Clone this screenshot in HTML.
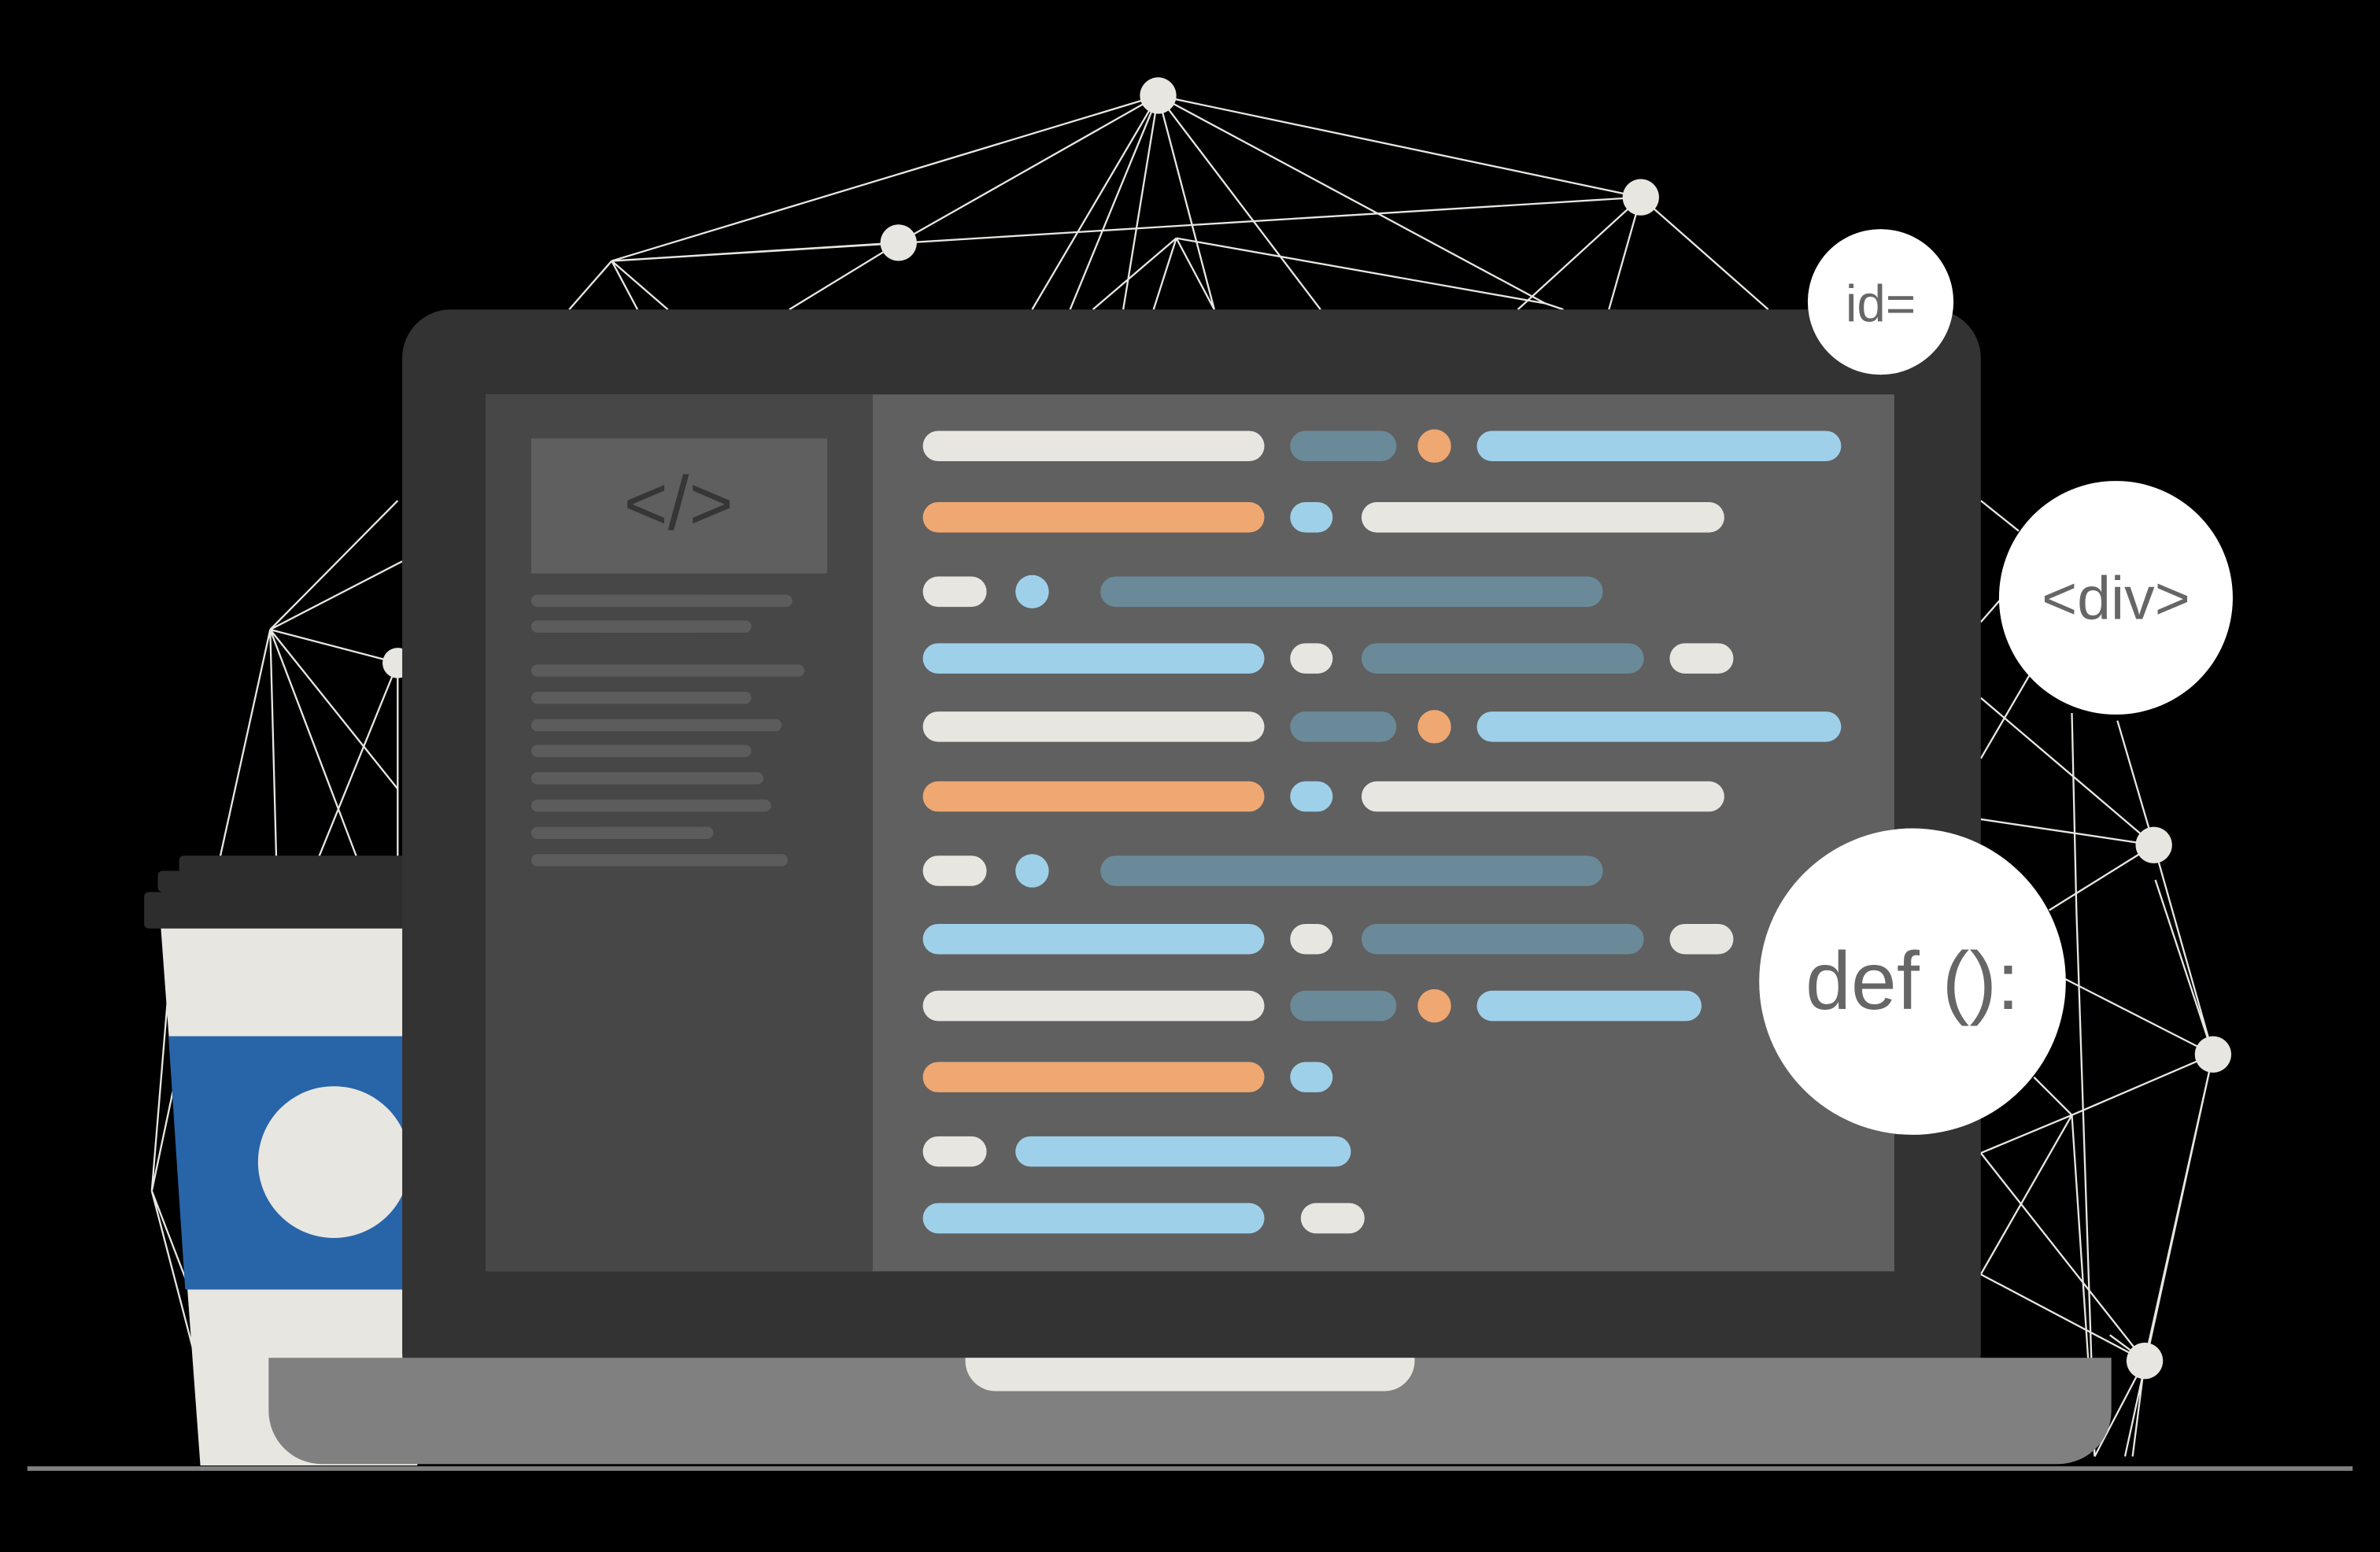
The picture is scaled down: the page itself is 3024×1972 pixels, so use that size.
<!DOCTYPE html>
<html><head><meta charset="utf-8"><style>
html,body{margin:0;padding:0;background:#000;}
svg{display:block;}
</style></head><body>
<svg width="3024" height="1972" viewBox="0 0 1568 1023" preserveAspectRatio="none" xmlns="http://www.w3.org/2000/svg">
<rect width="1568" height="1023" fill="#000"/>
<g stroke="#e8e6e1" stroke-width="1.2" fill="none">
<path d="M763,63 L403,172 M763,63 L592,160 M763,63 L1081,130 M763,63 L680,204 M763,63 L705,204 M763,63 L800,204 M763,63 L870,204 M763,63 L1018,200 M763,63 L740,204 M403,172 L1081,130 M403,172 L592,160 M592,160 L520,204 M403,172 L375,204 M403,172 L440,204 M403,172 L420,204 M775,157 L720,204 M775,157 L760,204 M775,157 L1018,200 M775,157 L800,204 M1081,130 L1000,204 M1081,130 L1060,204 M1081,130 L1165,204 M1018,200 L1030,204"/>
<path d="M178,415 L262,330 M178,415 L265,370 M178,415 L262,437 M178,415 L145,565 M178,415 L182,565 M178,415 L235,565 M178,415 L262,520 M262,437 L210,565 M262,437 L262,565 M100,785 L118,700 M100,785 L125,850 M100,785 L112,640 M100,785 L130,900"/>
<path d="M1305,330 L1330,350 M1305,410 L1340,370 M1305,500 L1340,440 M1305,460 L1419,557 M1305,540 L1419,557 M1365,470 L1368,600 M1419,557 L1458,695 M1419,557 L1350,600 M1419,557 L1395,475 M1458,695 L1360,645 M1458,695 L1365,735 M1458,695 L1413,897 M1458,695 L1420,580 M1458,695 L1400,960 M1365,735 L1305,760 M1365,735 L1305,840 M1365,735 L1380,960 M1365,735 L1340,710 M1413,897 L1305,840 M1413,897 L1380,960 M1413,897 L1390,880 M1413,897 L1405,960 M1305,760 L1413,897 M1368,600 L1380,960"/>
</g>
<g fill="#e8e6e1">
<circle cx="763" cy="63" r="12"/><circle cx="592" cy="160" r="12"/><circle cx="1081" cy="130" r="12"/>
<circle cx="262" cy="437" r="10"/><circle cx="1419" cy="557" r="12"/><circle cx="1458" cy="695" r="12"/><circle cx="1413" cy="897" r="12"/>
</g>
<line x1="18" y1="968" x2="1550" y2="968" stroke="#808080" stroke-width="3"/>
<rect x="118" y="564" width="160" height="12" rx="3" fill="#2d2d2d"/>
<rect x="104" y="574" width="170" height="14" rx="3" fill="#2d2d2d"/>
<rect x="95" y="588" width="180" height="24" rx="3" fill="#2d2d2d"/>
<polygon points="106,612 275,612 275,966 132,966" fill="#e8e6e1"/>
<polygon points="111,683 275,683 275,850 122,850" fill="#2864a8"/>
<circle cx="220" cy="766" r="50" fill="#e8e6e1"/>
<rect x="265" y="204" width="1040" height="720" rx="32" fill="#333"/>
<rect x="320" y="260" width="928" height="578" fill="#606060"/>
<rect x="320" y="260" width="255" height="578" fill="#474747"/>
<rect x="350" y="289" width="195" height="89" fill="#5f5f5f"/>
<text x="447" y="349" text-anchor="middle" font-family="Liberation Sans, sans-serif" font-size="50" fill="#363636">&lt;/&gt;</text>
<g stroke="#5c5c5c" stroke-width="8" stroke-linecap="round">
<line x1="354" y1="396" x2="518" y2="396"/><line x1="354" y1="413" x2="491" y2="413"/>
<line x1="354" y1="442" x2="526" y2="442"/><line x1="354" y1="460" x2="491" y2="460"/>
<line x1="354" y1="478" x2="511" y2="478"/><line x1="354" y1="495" x2="491" y2="495"/>
<line x1="354" y1="513" x2="499" y2="513"/><line x1="354" y1="531" x2="504" y2="531"/>
<line x1="354" y1="549" x2="466" y2="549"/><line x1="354" y1="567" x2="515" y2="567"/>
</g>
<g stroke-width="20" stroke-linecap="round">
<line x1="618" y1="294" x2="823" y2="294" stroke="#e8e6e1"/><line x1="860" y1="294" x2="910" y2="294" stroke="#6b8a99"/><line x1="983" y1="294" x2="1203" y2="294" stroke="#9fd0ea"/>
<line x1="618" y1="341" x2="823" y2="341" stroke="#efa872"/><line x1="860" y1="341" x2="868" y2="341" stroke="#9fd0ea"/><line x1="907" y1="341" x2="1126" y2="341" stroke="#e8e6e1"/>
<line x1="618" y1="390" x2="640" y2="390" stroke="#e8e6e1"/><line x1="735" y1="390" x2="1046" y2="390" stroke="#6b8a99"/>
<line x1="618" y1="434" x2="823" y2="434" stroke="#9fd0ea"/><line x1="860" y1="434" x2="868" y2="434" stroke="#e8e6e1"/><line x1="907" y1="434" x2="1073" y2="434" stroke="#6b8a99"/><line x1="1110" y1="434" x2="1132" y2="434" stroke="#e8e6e1"/>
<line x1="618" y1="479" x2="823" y2="479" stroke="#e8e6e1"/><line x1="860" y1="479" x2="910" y2="479" stroke="#6b8a99"/><line x1="983" y1="479" x2="1203" y2="479" stroke="#9fd0ea"/>
<line x1="618" y1="525" x2="823" y2="525" stroke="#efa872"/><line x1="860" y1="525" x2="868" y2="525" stroke="#9fd0ea"/><line x1="907" y1="525" x2="1126" y2="525" stroke="#e8e6e1"/>
<line x1="618" y1="574" x2="640" y2="574" stroke="#e8e6e1"/><line x1="735" y1="574" x2="1046" y2="574" stroke="#6b8a99"/>
<line x1="618" y1="619" x2="823" y2="619" stroke="#9fd0ea"/><line x1="860" y1="619" x2="868" y2="619" stroke="#e8e6e1"/><line x1="907" y1="619" x2="1073" y2="619" stroke="#6b8a99"/><line x1="1110" y1="619" x2="1132" y2="619" stroke="#e8e6e1"/>
<line x1="618" y1="663" x2="823" y2="663" stroke="#e8e6e1"/><line x1="860" y1="663" x2="910" y2="663" stroke="#6b8a99"/><line x1="983" y1="663" x2="1111" y2="663" stroke="#9fd0ea"/>
<line x1="618" y1="710" x2="823" y2="710" stroke="#efa872"/><line x1="860" y1="710" x2="868" y2="710" stroke="#9fd0ea"/>
<line x1="618" y1="759" x2="640" y2="759" stroke="#e8e6e1"/><line x1="679" y1="759" x2="880" y2="759" stroke="#9fd0ea"/>
<line x1="618" y1="803" x2="823" y2="803" stroke="#9fd0ea"/><line x1="867" y1="803" x2="889" y2="803" stroke="#e8e6e1"/>
</g>
<g fill="#efa872"><circle cx="945" cy="294" r="11"/><circle cx="945" cy="479" r="11"/><circle cx="945" cy="663" r="11"/></g>
<g fill="#9fd0ea"><circle cx="680" cy="390" r="11"/><circle cx="680" cy="574" r="11"/></g>
<path d="M177,895 H1391 V930 A35,35 0 0 1 1356,965 H212 A35,35 0 0 1 177,930 Z" fill="#808080"/>
<path d="M636,895 H932 V897 A20,20 0 0 1 912,917 H656 A20,20 0 0 1 636,897 Z" fill="#e8e6e1"/>
<g fill="#fff">
<circle cx="1239" cy="199" r="48"/><circle cx="1394" cy="394" r="77"/><circle cx="1260" cy="647" r="101"/>
</g>
<g fill="#666" font-family="Liberation Sans, sans-serif" text-anchor="middle">
<text x="1239" y="212" font-size="34">id=</text>
<text x="1394" y="408" font-size="40">&lt;div&gt;</text>
<text x="1260" y="665" font-size="54">def ():</text>
</g>
</svg>
</body></html>
